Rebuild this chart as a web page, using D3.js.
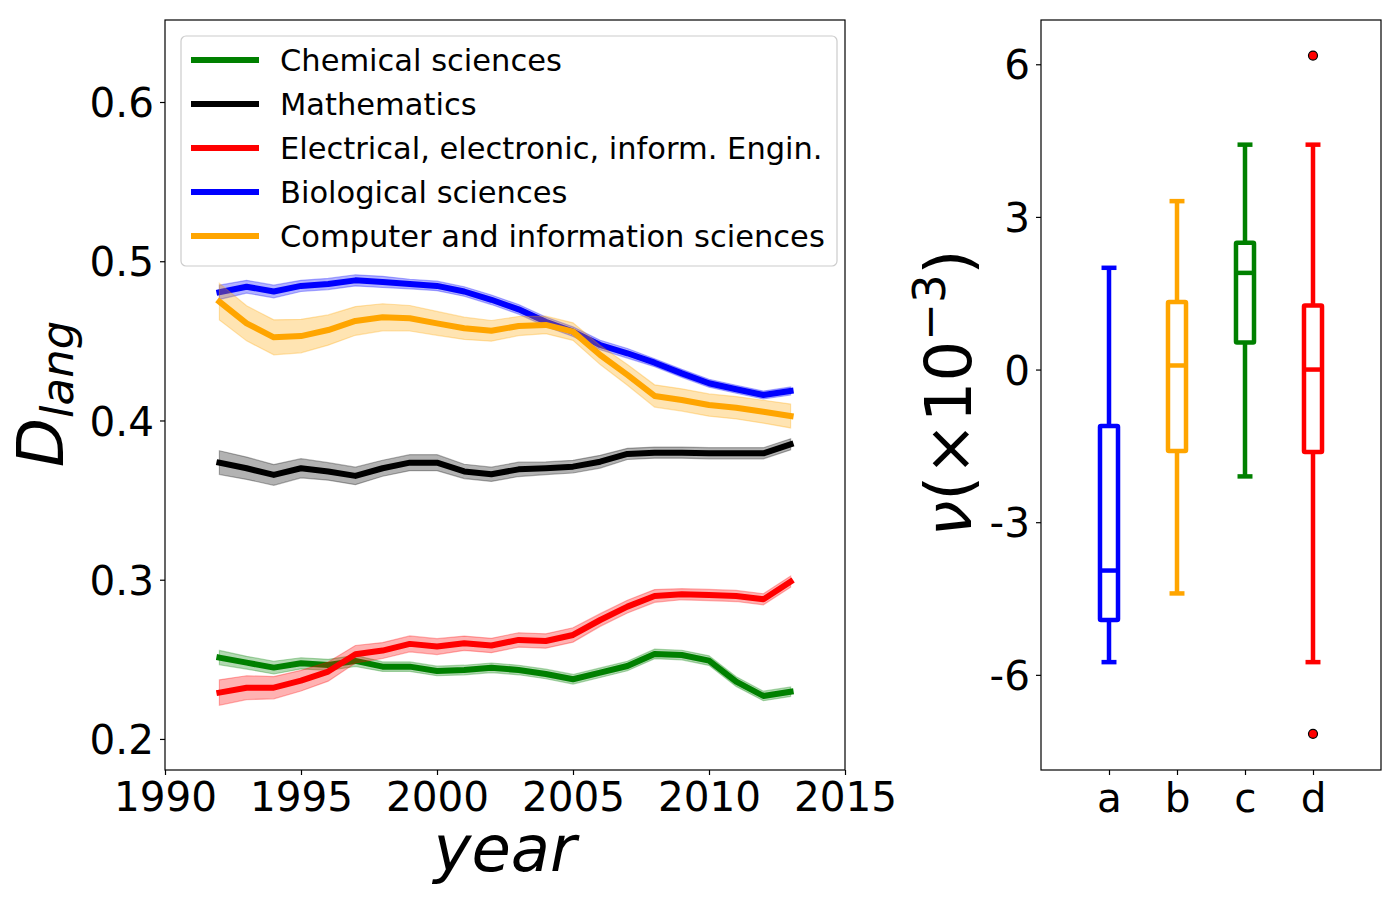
<!DOCTYPE html>
<html>
<head>
<meta charset="utf-8">
<script src="https://cdn.jsdelivr.net/npm/d3@7"></script>
<style>
  html, body { margin: 0; padding: 0; background: #fff; }
  svg text { font-family: "DejaVu Sans", sans-serif; }
</style>
</head>
<body>
<svg id="chart" width="1400" height="900"></svg>
<script>
// ---------------- DATA ----------------
const years = [1992,1993,1994,1995,1996,1997,1998,1999,2000,2001,2002,2003,2004,2005,2006,2007,2008,2009,2010,2011,2012,2013];

const seriesNames = ["Chemical sciences", "Mathematics", "Electrical, electronic, inform. Engin.", "Biological sciences", "Computer and information sciences"];
const seriesColors = ["#008000", "#000000", "#ff0000", "#0000ff", "#ffa500"];

const chemical = [0.2511,0.2479,0.2448,0.2475,0.2465,0.2490,0.2454,0.2454,0.2427,0.2433,0.2447,0.2433,0.2408,0.2375,0.2416,0.2458,0.2534,0.2527,0.2492,0.2360,0.2270,0.2297];
const chemicalErr = [0.0045,0.004,0.004,0.0035,0.0035,0.0035,0.003,0.003,0.003,0.003,0.003,0.003,0.003,0.003,0.003,0.003,0.003,0.003,0.003,0.003,0.003,0.003];

const mathematics = [0.3735,0.3700,0.3658,0.3700,0.3680,0.3652,0.3700,0.3735,0.3735,0.3680,0.3662,0.3693,0.3700,0.3710,0.3741,0.3790,0.3798,0.3798,0.3794,0.3794,0.3794,0.3850];
const mathematicsErr = [0.0075,0.007,0.0065,0.006,0.0055,0.0055,0.005,0.005,0.005,0.0045,0.0045,0.0045,0.004,0.004,0.004,0.0035,0.0035,0.0035,0.0035,0.0035,0.0035,0.0035];

const electrical = [0.2291,0.2322,0.2322,0.2366,0.2423,0.2532,0.2555,0.2597,0.2580,0.2601,0.2587,0.2622,0.2615,0.2653,0.2747,0.2831,0.2898,0.2909,0.2904,0.2898,0.2877,0.2988];
const electricalErr = [0.008,0.0075,0.007,0.0065,0.006,0.0055,0.005,0.005,0.005,0.0045,0.0045,0.0045,0.0045,0.0045,0.004,0.004,0.004,0.0035,0.0035,0.0035,0.0035,0.0035];

const biological = [0.4805,0.4840,0.4810,0.4845,0.4857,0.4880,0.4870,0.4857,0.4845,0.4810,0.4758,0.4698,0.4620,0.4558,0.4474,0.4422,0.4363,0.4296,0.4234,0.4196,0.4160,0.4185];
const biologicalErr = [0.0045,0.004,0.004,0.0035,0.0035,0.0035,0.0035,0.003,0.003,0.003,0.003,0.003,0.003,0.003,0.003,0.003,0.0025,0.0025,0.0025,0.0025,0.0025,0.0025];

const computer = [0.4746,0.4610,0.4522,0.4530,0.4568,0.4625,0.4648,0.4642,0.4610,0.4579,0.4563,0.4593,0.4600,0.4558,0.4411,0.4286,0.4154,0.4129,0.4097,0.4080,0.4055,0.4028];
const computerErr = [0.0115,0.011,0.011,0.0105,0.0095,0.009,0.0085,0.008,0.0075,0.007,0.0065,0.006,0.0055,0.0055,0.006,0.0065,0.007,0.007,0.007,0.007,0.0072,0.0075];

const xTicks = [1990,1995,2000,2005,2010,2015];
const yTicks = [0.2,0.3,0.4,0.5,0.6];

// Box plot data
const boxCats = ["a","b","c","d"];
const boxColors = ["#0000ff","#ffa500","#008000","#ff0000"];
const whiskerLow  = [-5.75, -4.40, -2.10, -5.75];
const q1          = [-4.92, -1.60,  0.53, -1.62];
const medians     = [-3.95,  0.08,  1.90,  0.00];
const q3          = [-1.11,  1.33,  2.49,  1.26];
const whiskerHigh = [ 2.00,  3.31,  4.42,  4.42];
const outliers    = [[], [], [], [6.17, -7.16]];
const boxYTicks = [-6,-3,0,3,6];
const boxYTickLabels = ["-6","-3","0","3","6"];

// ---------------- LAYOUT ----------------
const svg = d3.select("#chart");
const L = {left:165, right:845, top:20, bottom:770};
const R = {left:1041, right:1381, top:20, bottom:770};
const tickFont = 40.5;

const x = d3.scaleLinear().domain([1990, 2015]).range([L.left, L.right]);
const y = d3.scaleLinear().domain([0.1805, 0.6515]).range([L.bottom, L.top]);

// ---------------- LEFT PANEL ----------------
const values = [chemical, mathematics, electrical, biological, computer];
const errs = [chemicalErr, mathematicsErr, electricalErr, biologicalErr, computerErr];

const gL = svg.append("g");
const area = d3.area().x(d => x(d.yr)).y0(d => y(d.v - d.e)).y1(d => y(d.v + d.e));
const line = d3.line().x(d => x(d.yr)).y(d => y(d.v));

values.forEach((vals, i) => {
  const data = years.map((yr, j) => ({yr, v: vals[j], e: errs[i][j]}));
  gL.append("path").datum(data).attr("d", area)
    .attr("fill", seriesColors[i]).attr("fill-opacity", 0.3)
    .attr("stroke", seriesColors[i]).attr("stroke-opacity", 0.3).attr("stroke-width", 1.2);
  gL.append("path").datum(data).attr("d", line)
    .attr("fill", "none").attr("stroke", seriesColors[i]).attr("stroke-width", 6)
    .attr("stroke-linejoin", "round").attr("stroke-linecap", "square");
});

// axes
const xAxis = d3.axisBottom(x).tickValues(xTicks).tickFormat(d3.format("d")).tickSizeOuter(0).tickSize(5).tickPadding(4);
const yAxis = d3.axisLeft(y).tickValues(yTicks).tickFormat(d3.format(".1f")).tickSizeOuter(0).tickSize(5).tickPadding(6);

const gx = svg.append("g").attr("transform", `translate(0,${L.bottom})`).call(xAxis);
const gy = svg.append("g").attr("transform", `translate(${L.left},0)`).call(yAxis);
[gx, gy].forEach(g => {
  g.select(".domain").remove();
  g.selectAll(".tick line").attr("stroke", "#000").attr("stroke-width", 1.2);
  g.selectAll(".tick text").attr("font-size", tickFont).attr("fill", "#000").attr("font-family", "DejaVu Sans");
});
gx.selectAll(".tick text").attr("dy", null).attr("y", 41);
gy.selectAll(".tick text").attr("dy", "0.36em");

svg.append("rect").attr("x", L.left).attr("y", L.top).attr("width", L.right - L.left).attr("height", L.bottom - L.top)
  .attr("fill", "none").attr("stroke", "#000").attr("stroke-width", 1.2);

// axis labels
svg.append("text").attr("x", (L.left + L.right) / 2).attr("y", 871).attr("text-anchor", "middle")
  .attr("font-size", 64).attr("font-style", "italic").text("year");

const yl = svg.append("text").attr("transform", "translate(63,394) rotate(-90)").attr("text-anchor", "middle");
yl.append("tspan").attr("font-size", 64).attr("font-style", "italic").text("D");
yl.append("tspan").attr("font-size", 45).attr("font-style", "italic").attr("dy", 10).text("lang");

// legend
const leg = svg.append("g");
leg.append("rect").attr("x", 181).attr("y", 36).attr("width", 656).attr("height", 230).attr("rx", 5)
  .attr("fill", "#fff").attr("fill-opacity", 0.8).attr("stroke", "#cccccc").attr("stroke-width", 1.2);
seriesNames.forEach((name, i) => {
  const ly = 60 + i * 44;
  leg.append("line").attr("x1", 194).attr("x2", 256).attr("y1", ly).attr("y2", ly)
    .attr("stroke", seriesColors[i]).attr("stroke-width", 6).attr("stroke-linecap", "square");
  leg.append("text").attr("x", 280).attr("y", ly).attr("dy", "0.36em").attr("font-size", 30.5).text(name);
});

// ---------------- RIGHT PANEL ----------------
const bx = d3.scaleLinear().domain([0, 5]).range([R.left, R.right]);
const by = d3.scaleLinear().domain([-7.87, 6.87]).range([R.bottom, R.top]);
const gR = svg.append("g");
const boxW = 0.265, capW = 0.22;

boxCats.forEach((c, i) => {
  const pos = i + 1, col = boxColors[i];
  const g = gR.append("g").attr("stroke", col).attr("stroke-width", 4.5).attr("fill", "none").attr("stroke-linejoin", "round");
  // whiskers
  g.append("line").attr("x1", bx(pos)).attr("x2", bx(pos)).attr("y1", by(q3[i])).attr("y2", by(whiskerHigh[i]));
  g.append("line").attr("x1", bx(pos)).attr("x2", bx(pos)).attr("y1", by(q1[i])).attr("y2", by(whiskerLow[i]));
  // caps
  [whiskerHigh[i], whiskerLow[i]].forEach(v => {
    g.append("line").attr("x1", bx(pos - capW / 2)).attr("x2", bx(pos + capW / 2)).attr("y1", by(v)).attr("y2", by(v));
  });
  // box
  g.append("rect").attr("x", bx(pos - boxW / 2)).attr("width", bx(pos + boxW / 2) - bx(pos - boxW / 2))
    .attr("y", by(q3[i])).attr("height", by(q1[i]) - by(q3[i])).attr("rx", 1);
  // median
  g.append("line").attr("x1", bx(pos - boxW / 2)).attr("x2", bx(pos + boxW / 2)).attr("y1", by(medians[i])).attr("y2", by(medians[i]));
  // outliers
  outliers[i].forEach(v => {
    gR.append("circle").attr("cx", bx(pos)).attr("cy", by(v)).attr("r", 4.5)
      .attr("fill", "#ff0000").attr("stroke", "#000").attr("stroke-width", 1.2);
  });
});

const bxAxis = d3.axisBottom(bx).tickValues([1,2,3,4]).tickFormat((d) => boxCats[d - 1]).tickSizeOuter(0).tickSize(5);
const byAxis = d3.axisLeft(by).tickValues(boxYTicks).tickFormat((d, i) => boxYTickLabels[i]).tickSizeOuter(0).tickSize(5).tickPadding(6);
const gbx = svg.append("g").attr("transform", `translate(0,${R.bottom})`).call(bxAxis);
const gby = svg.append("g").attr("transform", `translate(${R.left},0)`).call(byAxis);
[gbx, gby].forEach(g => {
  g.select(".domain").remove();
  g.selectAll(".tick line").attr("stroke", "#000").attr("stroke-width", 1.2);
  g.selectAll(".tick text").attr("font-size", tickFont).attr("fill", "#000").attr("font-family", "DejaVu Sans");
});
gbx.selectAll(".tick text").attr("dy", null).attr("y", 42);
gby.selectAll(".tick text").attr("dy", "0.36em");

svg.append("rect").attr("x", R.left).attr("y", R.top).attr("width", R.right - R.left).attr("height", R.bottom - R.top)
  .attr("fill", "none").attr("stroke", "#000").attr("stroke-width", 1.2);

const rl = svg.append("text").attr("transform", "translate(971,393) rotate(-90)").attr("text-anchor", "middle").attr("font-size", 64);
rl.append("tspan").attr("font-style", "italic").text("ν");
rl.append("tspan").text("(×10");
rl.append("tspan").attr("font-size", 45).attr("dy", -26).text("−3");
rl.append("tspan").attr("dy", 26).text(")");
</script>
</body>
</html>
